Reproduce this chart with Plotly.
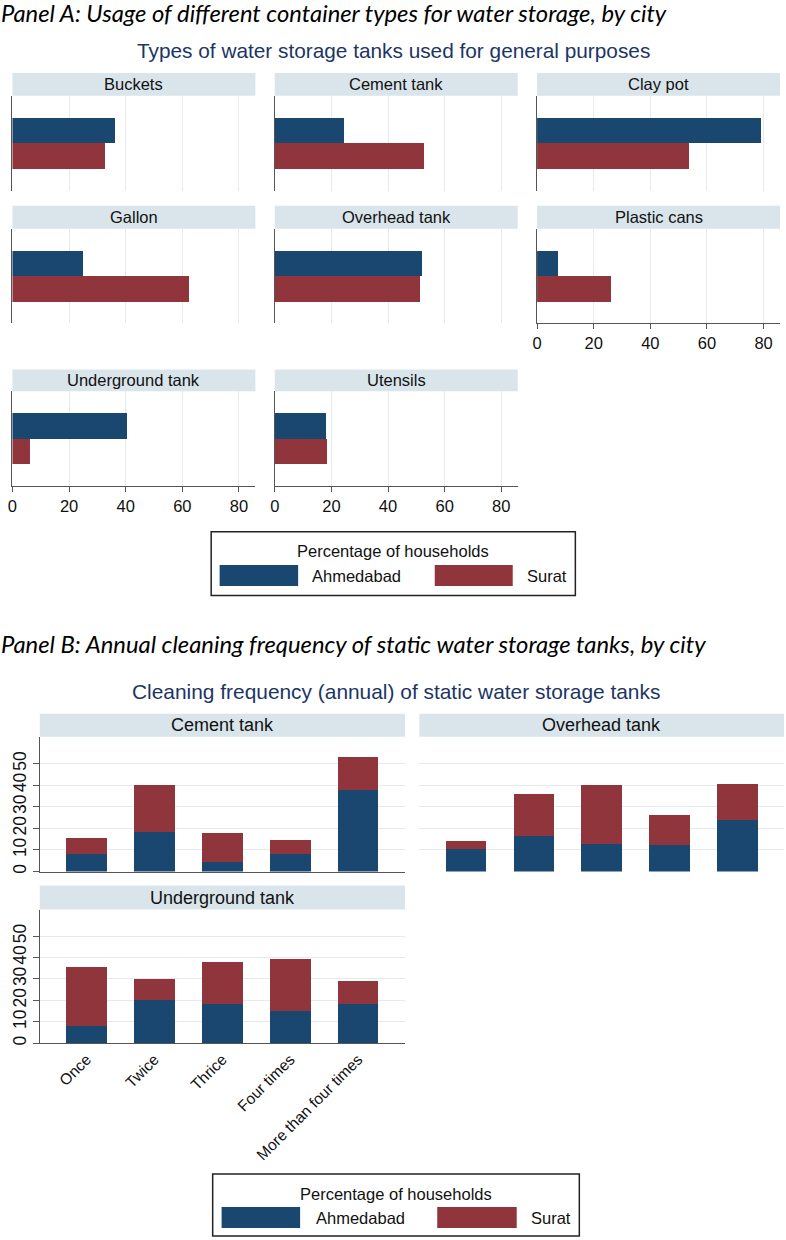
import plotly.graph_objects as go

W, H = 786, 1240

# ---------------- data ----------------
cities = ["Ahmedabad", "Surat"]
city_colors = ["#1a476f", "#90353b"]

container_types = ["Buckets", "Cement tank", "Clay pot", "Gallon", "Overhead tank",
                   "Plastic cans", "Underground tank", "Utensils"]
usage_ahmedabad = [36.3, 24.6, 78.9, 24.9, 52.1, 7.5, 40.4, 18.1]
usage_surat = [32.6, 52.6, 53.7, 62.3, 51.4, 26.0, 6.1, 18.6]
usage_ticks = [0, 20, 40, 60, 80]

tank_types = ["Cement tank", "Overhead tank", "Underground tank"]
frequencies = ["Once", "Twice", "Thrice", "Four times", "More than four times"]
clean_ahmedabad_cement = [8.1, 18.3, 4.4, 8.3, 37.8]
clean_surat_cement = [7.6, 21.9, 13.6, 6.1, 15.3]
clean_ahmedabad_overhead = [10.4, 16.4, 12.8, 12.2, 23.7]
clean_surat_overhead = [3.7, 19.7, 27.3, 14.1, 16.7]
clean_ahmedabad_underground = [8.0, 20.1, 18.3, 15.3, 18.3]
clean_surat_underground = [27.7, 10.1, 19.7, 24.0, 10.7]
clean_ticks = [0, 10, 20, 30, 40, 50]

clean_ahmedabad = [clean_ahmedabad_cement, clean_ahmedabad_overhead, clean_ahmedabad_underground]
clean_surat = [clean_surat_cement, clean_surat_overhead, clean_surat_underground]

# ---------------- style ----------------
FONT = "Liberation Sans, Arial, sans-serif"
ITFONT = "Lato, Open Sans, Liberation Sans, sans-serif"
STRIP = "#d9e5eb"
GRID = "#e3ebef"
AXIS = "#555555"
TITLE_COLOR = "#1c3564"


def fx(px):
    return px / W


def fy(py):
    return 1 - py / H


fig = go.Figure()
layout = dict(
    width=W, height=H, margin=dict(l=0, r=0, t=0, b=0),
    paper_bgcolor="white", plot_bgcolor="white",
    barmode="stack", showlegend=False,
    font=dict(family=FONT, size=16, color="#111111"),
)
shapes = []
annotations = []

# ---------------- Panel A ----------------
colsA = [(7.5, 252), (271.5, 516), (535.5, 780)]
rowsA = [(96, 191), (229, 324), (392, 487)]
stripsA = [(73, 96), (206, 229), (370, 392)]
labelled_A = {"Plastic cans", "Underground tank", "Utensils"}

k = 0
for i, name in enumerate(container_types):
    k += 1
    r, c = divmod(i, 3)
    x0, x1 = colsA[c]
    y0, y1 = rowsA[r]
    xa, ya = f"x{k}", f"y{k}"
    for city, val, col in zip(cities, [usage_ahmedabad[i], usage_surat[i]], city_colors):
        fig.add_trace(go.Bar(x=[val], y=[city], orientation="h", width=1.0,
                             marker=dict(color=col, line=dict(width=0)),
                             xaxis=xa, yaxis=ya, name=city))
    lab = name in labelled_A
    layout[f"xaxis{k}"] = dict(
        domain=[fx(x0), fx(x1)], anchor=ya, range=[0, 85.8],
        tickvals=usage_ticks, showgrid=True, gridcolor=GRID, gridwidth=1,
        zeroline=False, showline=lab, linecolor=AXIS, linewidth=1,
        ticks="outside" if lab else "", ticklen=5, tickcolor=AXIS,
        showticklabels=lab, tickfont=dict(size=16.5, family=FONT, color="#111111"),
    )
    layout[f"yaxis{k}"] = dict(
        domain=[fy(y1), fy(y0)], anchor=xa, type="category",
        categoryorder="array", categoryarray=cities, range=[2.35, -1.36],
        showgrid=False, zeroline=False, showline=True, linecolor=AXIS, linewidth=1,
        ticks="", showticklabels=False,
    )
    s0, s1 = stripsA[r]
    shapes.append(dict(type="rect", xref="paper", yref="paper",
                       x0=fx(x0), x1=fx(x1), y0=fy(s1), y1=fy(s0),
                       fillcolor=STRIP, line=dict(width=0), layer="below"))
    annotations.append(dict(text=name, xref="paper", yref="paper",
                            x=fx((x0 + x1) / 2), y=fy((s0 + s1) / 2),
                            xanchor="center", yanchor="middle", showarrow=False,
                            font=dict(size=16.5, family=FONT, color="#111111")))

# ---------------- Panel B ----------------
colsB = [(35, 402.5), (417, 784)]
rowsB = [(738, 873), (911, 1045)]
stripsB = [(715, 738), (887, 911)]
posB = [(0, 0), (0, 1), (1, 0)]

for t, name in enumerate(tank_types):
    k += 1
    r, c = posB[t]
    x0, x1 = colsB[c]
    y0, y1 = rowsB[r]
    xa, ya = f"x{k}", f"y{k}"
    for city, vals, col in zip(cities, [clean_ahmedabad[t], clean_surat[t]], city_colors):
        fig.add_trace(go.Bar(x=frequencies, y=vals, width=0.6,
                             marker=dict(color=col, line=dict(width=0)),
                             xaxis=xa, yaxis=ya, name=city))
    left = c == 0
    xlab = name == "Underground tank"
    layout[f"xaxis{k}"] = dict(
        domain=[fx(x0), fx(x1)], anchor=ya, type="category",
        categoryorder="array", categoryarray=frequencies, range=[-0.69, 4.69],
        showgrid=False, zeroline=False, showline=left, linecolor=AXIS, linewidth=1,
        ticks="", showticklabels=xlab, tickangle=-45,
        tickfont=dict(size=15.5, family=FONT, color="#111111"),
    )
    layout[f"yaxis{k}"] = dict(
        domain=[fy(y1), fy(y0)], anchor=xa, range=[0, 62.4],
        tickvals=clean_ticks, showgrid=True, gridcolor=GRID, gridwidth=1,
        zeroline=False, showline=left, linecolor=AXIS, linewidth=1,
        ticks="outside" if left else "", ticklen=6, tickcolor=AXIS,
        showticklabels=left, tickangle=-90,
        tickfont=dict(size=17.5, family=FONT, color="#111111"),
    )
    s0, s1 = stripsB[r]
    shapes.append(dict(type="rect", xref="paper", yref="paper",
                       x0=fx(x0), x1=fx(x1), y0=fy(s1), y1=fy(s0),
                       fillcolor=STRIP, line=dict(width=0), layer="below"))
    annotations.append(dict(text=name, xref="paper", yref="paper",
                            x=fx((x0 + x1) / 2), y=fy((s0 + s1) / 2),
                            xanchor="center", yanchor="middle", showarrow=False,
                            font=dict(size=18, family=FONT, color="#111111")))

# ---------------- headings ----------------
annotations += [
    dict(text="<i>Panel A: Usage of different container types for water storage, by city</i>",
         xref="paper", yref="paper", x=fx(-6), y=fy(13), xanchor="left", yanchor="middle",
         showarrow=False, font=dict(size=23.8, family=ITFONT, color="#000000")),
    dict(text="Types of water storage tanks used for general purposes",
         xref="paper", yref="paper", x=fx(391), y=fy(51), xanchor="center", yanchor="middle",
         showarrow=False, font=dict(size=20.8, family=FONT, color=TITLE_COLOR)),
    dict(text="<i>Panel B: Annual cleaning frequency of static water storage tanks, by city</i>",
         xref="paper", yref="paper", x=fx(-6), y=fy(645), xanchor="left", yanchor="middle",
         showarrow=False, font=dict(size=23.8, family=ITFONT, color="#000000")),
    dict(text="Cleaning frequency (annual) of static water storage tanks",
         xref="paper", yref="paper", x=fx(393), y=fy(693), xanchor="center", yanchor="middle",
         showarrow=False, font=dict(size=20.9, family=FONT, color=TITLE_COLOR)),
]

# ---------------- legends (drawn) ----------------
def add_legend(box, title_y, sw_y, sw_x, lab_x):
    bx0, by0, bx1, by1 = box
    shapes.append(dict(type="rect", xref="paper", yref="paper",
                       x0=fx(bx0), x1=fx(bx1), y0=fy(by1), y1=fy(by0),
                       fillcolor="white", line=dict(color="#222222", width=1.5)))
    annotations.append(dict(text="Percentage of households", xref="paper", yref="paper",
                            x=fx((bx0 + bx1) / 2), y=fy(title_y), xanchor="center",
                            yanchor="middle", showarrow=False,
                            font=dict(size=16.5, family=FONT, color="#111111")))
    for city, col, (sx0, sx1), lx in zip(cities, city_colors, sw_x, lab_x):
        shapes.append(dict(type="rect", xref="paper", yref="paper",
                           x0=fx(sx0), x1=fx(sx1), y0=fy(sw_y[1]), y1=fy(sw_y[0]),
                           fillcolor=col, line=dict(width=0)))
        annotations.append(dict(text=city, xref="paper", yref="paper",
                                x=fx(lx), y=fy((sw_y[0] + sw_y[1]) / 2), xanchor="left",
                                yanchor="middle", showarrow=False,
                                font=dict(size=16.5, family=FONT, color="#111111")))


add_legend((207.5, 532.5, 574, 596.5), 552, (566, 587), [(216, 295), (432.5, 511)], [307, 523.5])
add_legend((209, 1176, 578, 1238), 1196, (1209, 1230), [(218, 297), (435, 515)], [310.5, 527.5])

layout["shapes"] = shapes
layout["annotations"] = annotations
fig.update_layout(**layout)

fig.write_html("out.html")
